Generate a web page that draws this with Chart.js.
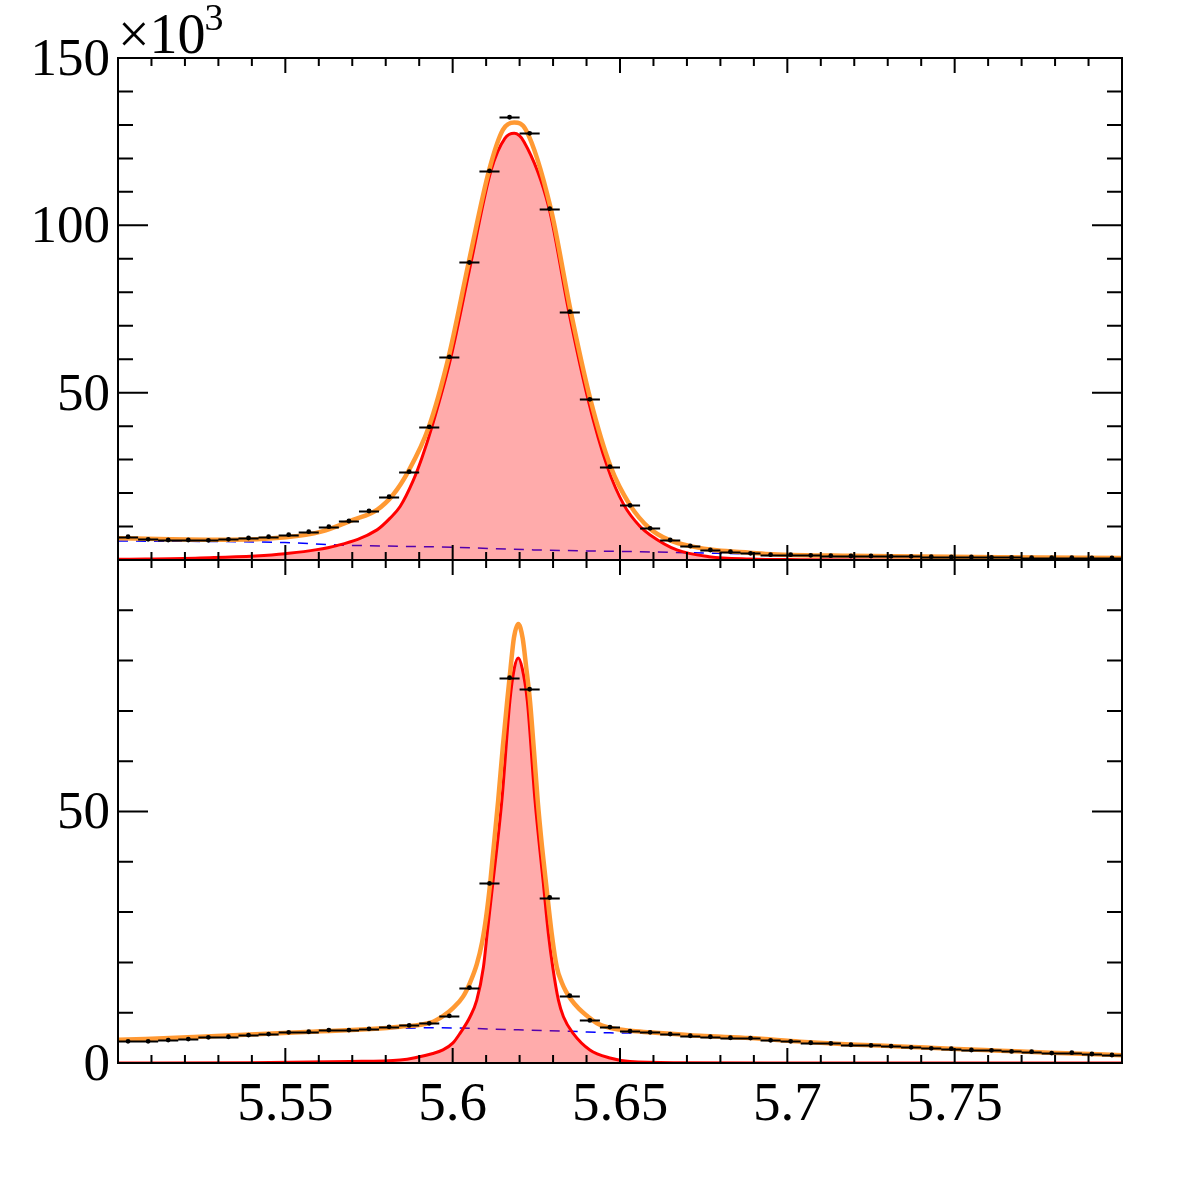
<!DOCTYPE html>
<html>
<head>
<meta charset="utf-8">
<script src="https://cdn.jsdelivr.net/npm/chart.js@4.4.0/dist/chart.umd.min.js"></script>
<style>
  html, body { margin: 0; padding: 0; background: #fff; }
  #wrap { position: relative; width: 1182px; height: 1182px; }
  #wrap canvas { position: absolute; left: 0; top: 0; }
</style>
</head>
<body>
<div id="wrap">
  <canvas id="topPanel" width="1182" height="1182"></canvas>
  <canvas id="bottomPanel" width="1182" height="1182"></canvas>
</div>
<script>
// bin centres (bin width 0.006)
const binX = [5.503, 5.509, 5.515, 5.521, 5.527, 5.533, 5.539, 5.545, 5.551, 5.557,
              5.563, 5.569, 5.575, 5.581, 5.587, 5.593, 5.599, 5.605, 5.611, 5.617,
              5.623, 5.629, 5.635, 5.641, 5.647, 5.653, 5.659, 5.665, 5.671, 5.677,
              5.683, 5.689, 5.695, 5.701, 5.707, 5.713, 5.719, 5.725, 5.731, 5.737,
              5.743, 5.749, 5.755, 5.761, 5.767, 5.773, 5.779, 5.785, 5.791, 5.797];
const binHalfWidth = 0.003;

// top panel (x10^3 entries)
const topCounts = [6.96, 6.19, 5.98, 5.98, 5.89, 6.19, 6.57, 6.96, 7.56, 8.46,
                   9.95, 11.65, 14.64, 18.9, 26.4, 39.8, 60.7, 88.9, 116.3, 132.3,
                   127.5, 105.0, 74.2, 48.0, 27.9, 16.3, 9.47, 5.98, 4.18, 2.99,
                   2.49, 2.0, 1.58, 1.58, 1.4, 1.3, 1.2, 1.2, 1.1, 1.1,
                   1.0, 0.9, 0.9, 0.8, 0.8, 0.7, 0.7, 0.7, 0.6, 0.6];
const topTotalX = [5.5, 5.5155, 5.5305, 5.5502, 5.5607, 5.5702, 5.5774, 5.5822, 5.5867, 5.5929,
                   5.5988, 5.6048, 5.6109, 5.615, 5.6184, 5.6219, 5.6293, 5.6353, 5.6412, 5.6472,
                   5.653, 5.6588, 5.6646, 5.6718, 5.6789, 5.6888, 5.6954, 5.7187, 5.7396, 5.7635, 5.8];
const topTotalY = [6.5, 6.2, 6.05, 6.8, 8.5, 12.0, 15.0, 19.5, 26.4, 39.8,
                   60.7, 89, 116.5, 128.5, 130.7, 128.5, 105.1, 74.2, 47.8, 27.9,
                   16.4, 9.5, 6.0, 4.0, 2.9, 2.2, 1.75, 1.25, 1.05, 0.8, 0.6];
const topSigX = [5.5, 5.5245, 5.5499, 5.5654, 5.5774, 5.5813, 5.5843, 5.5881, 5.5908, 5.5938,
                 5.5995, 5.6055, 5.6115, 5.6156, 5.6184, 5.6213, 5.6288, 5.6347, 5.6405, 5.6462,
                 5.6512, 5.656, 5.659, 5.667, 5.6766, 5.6888, 5.7038, 5.7337, 5.8];
const topSigY = [0.2, 0.6, 1.9, 4.3, 9.0, 12.5, 16.0, 23.5, 30.5, 39.8,
                 60.7, 89, 116.5, 126, 127.5, 125, 105.1, 74.2, 47.8, 27.9,
                 16.4, 10.0, 7.5, 3.0, 1.0, 0.3, 0.1, 0.02, 0.0];
const topBkgX = [5.5, 5.5499, 5.5654, 5.6, 5.625, 5.66, 5.679, 5.7038, 5.7337, 5.7635, 5.8];
const topBkgY = [5.7, 5.2, 4.5, 3.8, 3.0, 2.4, 2.0, 1.45, 1.05, 0.8, 0.6];

// bottom panel
const botCounts = [4.3, 4.3, 4.56, 4.76, 5.1, 5.22, 5.56, 5.75, 6.09, 6.21,
                   6.55, 6.55, 6.8, 7.2, 7.48, 7.88, 9.38, 15.0, 35.7, 76.6,
                   74.3, 32.9, 13.4, 8.47, 7.14, 6.35, 6.09, 5.75, 5.42, 5.22,
                   5.02, 4.96, 4.5, 4.3, 4.03, 3.9, 3.63, 3.5, 3.37, 3.11,
                   2.91, 2.84, 2.58, 2.51, 2.31, 2.25, 1.98, 2.05, 1.79, 1.59];
const botTotalX = [5.5, 5.5245, 5.5544, 5.5843, 5.5941, 5.5971, 5.6001, 5.6031, 5.6052, 5.6072,
                   5.6088, 5.61, 5.6112, 5.6136, 5.615, 5.6163, 5.6173, 5.6183, 5.6196, 5.6209,
                   5.622, 5.6231, 5.6243, 5.6254, 5.6267, 5.6279, 5.6296, 5.6311, 5.6326, 5.6338,
                   5.6353, 5.6377, 5.6403, 5.6431, 5.647, 5.653, 5.659, 5.6739, 5.6888, 5.7038,
                   5.7187, 5.7337, 5.7486, 5.7635, 5.7785, 5.8];
const botTotalY = [4.6, 5.2, 6.1, 7.2, 8.2, 9.3, 10.9, 13.2, 16.0, 19.6,
                   24, 29, 35.7, 52.2, 63, 72, 78.5, 84.5, 87.3, 84.5,
                   78.5, 72, 62, 52.2, 43, 35.7, 25.7, 19.1, 16.0, 14.3,
                   12.7, 10.8, 9.3, 7.9, 7.0, 6.4, 6.1, 5.4, 4.95, 4.25,
                   3.7, 3.3, 2.85, 2.45, 2.05, 1.55];
const botSigX = [5.5, 5.5394, 5.5693, 5.5843, 5.5941, 5.5971, 5.6001, 5.6022, 5.6052, 5.6072,
                 5.6092, 5.6103, 5.612, 5.6147, 5.6171, 5.6184, 5.6196, 5.6208, 5.6223, 5.6246,
                 5.6271, 5.6286, 5.6299, 5.6316, 5.6331, 5.636, 5.641, 5.647, 5.653, 5.6679,
                 5.7038, 5.8];
const botSigY = [0.0, 0.05, 0.3, 0.6, 1.9, 2.6, 4.0, 5.9, 9.2, 12.5,
                 19.1, 25.7, 35.7, 52.2, 72.0, 78.4, 80.5, 78.4, 72.0, 52.2,
                 35.7, 25.7, 19.1, 12.5, 9.2, 5.9, 2.6, 1.0, 0.3, 0.05,
                 0.0, 0.0];
const botBkgX = [5.5, 5.5245, 5.5544, 5.5843, 5.5942, 5.6196, 5.6351, 5.647, 5.659, 5.6739,
                 5.6888, 5.7038, 5.7187, 5.7337, 5.7486, 5.7635, 5.7785, 5.8];
const botBkgY = [4.5, 5.1, 6.0, 6.9, 7.0, 6.6, 6.3, 6.0, 5.9, 5.4,
                 4.95, 4.25, 3.7, 3.3, 2.85, 2.45, 2.05, 1.55];

// axes
const xMajorTicks = [5.55, 5.6, 5.65, 5.7, 5.75];
const xTickLabels = ['5.55', '5.6', '5.65', '5.7', '5.75'];
const topYMajor = [0, 50, 100, 150];
const topYLabels = ['', '50', '100', '150'];
const botYMajor = [0, 50, 100];
const botYLabels = ['0', '50', ''];

const FONT = '"Liberation Serif", "DejaVu Serif", serif';

const mkPts = (xs, ys) => xs.map((x, i) => ({ x, y: ys[i] }));

function frame(cfg) {
    return {
        id: 'rootFrame',
        afterDatasetsDraw(chart) {
            // horizontal error bars on the data points
            const { ctx, scales: { x, y } } = chart;
            const pts = chart.data.datasets[0].data;
            ctx.save();
            ctx.strokeStyle = '#000';
            ctx.lineWidth = 1.8;
            ctx.beginPath();
            pts.forEach(p => {
                const py = Math.round(y.getPixelForValue(p.y)) + 0.5;
                ctx.moveTo(x.getPixelForValue(p.x - binHalfWidth), py);
                ctx.lineTo(x.getPixelForValue(p.x + binHalfWidth), py);
            });
            ctx.stroke();
            ctx.restore();
        },
        afterDraw(chart) {
            const { ctx, chartArea: a, scales: { x, y } } = chart;
            ctx.save();
            ctx.strokeStyle = '#000';
            ctx.lineWidth = 2;
            ctx.beginPath();
            // x ticks, top and bottom edges
            for (let v = 5.51; v < 5.795; v += 0.01) {
                const px = x.getPixelForValue(v);
                const major = xMajorTicks.some(m => Math.abs(m - v) < 1e-6);
                const len = major ? 15 : 8;
                ctx.moveTo(px, a.bottom); ctx.lineTo(px, a.bottom - len);
                ctx.moveTo(px, a.top); ctx.lineTo(px, a.top + len);
            }
            // y ticks, left and right edges
            for (let v = 10; v < cfg.yMax; v += 10) {
                const py = y.getPixelForValue(v);
                const len = v % 50 === 0 ? 30 : 15;
                ctx.moveTo(a.left, py); ctx.lineTo(a.left + len, py);
                ctx.moveTo(a.right, py); ctx.lineTo(a.right - len, py);
            }
            ctx.stroke();
            ctx.strokeRect(a.left, a.top, a.right - a.left, a.bottom - a.top);

            ctx.fillStyle = '#000';
            ctx.font = '53px ' + FONT;
            ctx.textAlign = 'right';
            ctx.textBaseline = 'middle';
            cfg.yMajor.forEach((v, i) => {
                if (cfg.yLabels[i]) ctx.fillText(cfg.yLabels[i], a.left - 8, y.getPixelForValue(v) + 3);
            });
            if (cfg.xLabels) {
                ctx.font = '55px ' + FONT;
                ctx.textAlign = 'center';
                ctx.textBaseline = 'alphabetic';
                xMajorTicks.forEach((v, i) => {
                    ctx.fillText(xTickLabels[i], x.getPixelForValue(v), a.bottom + 57);
                });
            }
            if (cfg.exponent) {
                ctx.font = '56px ' + FONT;
                ctx.textAlign = 'left';
                ctx.textBaseline = 'alphabetic';
                ctx.fillText('\u00d710', a.left, 53);
                const w = ctx.measureText('\u00d710').width;
                ctx.font = '38px ' + FONT;
                ctx.fillText('3', a.left + w - 1, 30);
            }
            ctx.restore();
        }
    };
}

function makePanel(id, counts, totX, totY, sigX, sigY, bkgX, bkgY, cfg) {
    return new Chart(document.getElementById(id), {
        type: 'line',
        data: {
            datasets: [
                {
                    label: 'data', data: mkPts(binX, counts), showLine: false,
                    pointRadius: 2.4, pointBackgroundColor: '#000', pointBorderWidth: 0, order: 0
                },
                {
                    label: 'total', data: mkPts(totX, totY), borderColor: '#ff9933', borderWidth: 4.5,
                    pointRadius: 0, cubicInterpolationMode: 'monotone', fill: false, order: 1
                },
                {
                    label: 'signal', data: mkPts(sigX, sigY), borderColor: '#ff0000', borderWidth: 3,
                    backgroundColor: 'rgba(255,0,0,0.33)', fill: 'origin',
                    pointRadius: 0, cubicInterpolationMode: 'monotone', order: 2
                },
                {
                    label: 'background', data: mkPts(bkgX, bkgY), borderColor: '#0000ff', borderWidth: 1.5,
                    borderDash: [10, 8], pointRadius: 0, cubicInterpolationMode: 'monotone', fill: false, order: 3
                }
            ]
        },
        options: {
            responsive: false,
            animation: false,
            devicePixelRatio: 1,
            events: [],
            layout: { padding: cfg.padding },
            plugins: { legend: { display: false }, tooltip: { enabled: false } },
            scales: {
                x: { type: 'linear', min: 5.5, max: 5.8, display: false },
                y: { type: 'linear', min: 0, max: cfg.yMax, display: false }
            }
        },
        plugins: [frame(cfg)]
    });
}

makePanel('topPanel', topCounts, topTotalX, topTotalY, topSigX, topSigY, topBkgX, topBkgY, {
    yMax: 150, yMajor: topYMajor, yLabels: topYLabels, xLabels: false, exponent: true,
    padding: { left: 118, right: 60, top: 58, bottom: 622 }
});
makePanel('bottomPanel', botCounts, botTotalX, botTotalY, botSigX, botSigY, botBkgX, botBkgY, {
    yMax: 100, yMajor: botYMajor, yLabels: botYLabels, xLabels: true, exponent: false,
    padding: { left: 118, right: 60, top: 560, bottom: 119 }
});
</script>
</body>
</html>
